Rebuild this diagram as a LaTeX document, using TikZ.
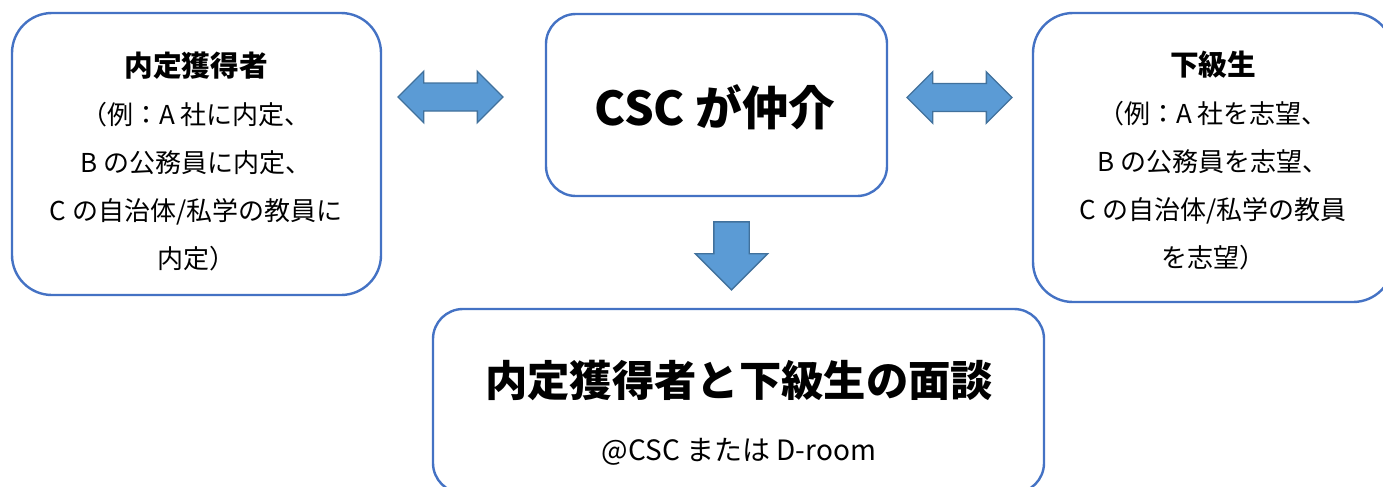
\documentclass[tikz,border=0pt]{standalone}
\usepackage{fontspec}
\setmainfont{Noto Sans CJK JP}
\usetikzlibrary{shapes.arrows}
\definecolor{boxblue}{HTML}{4472C4}
\definecolor{arrowfill}{HTML}{5B9BD5}
\definecolor{arrowline}{HTML}{41719C}

\begin{document}
\begin{tikzpicture}[
    x=0.75pt, y=-0.75pt,
    % Boxes and their texts
    roundbox/.style={rectangle, draw=boxblue, line width=1.8pt, fill=white, inner sep=0pt},
    bodytext/.style={align=center, inner sep=0pt, font=\fontsize{19.5pt}{36pt}\selectfont},
    % Block arrows
    sidearrow/.style={double arrow, draw=arrowline, line width=1pt, fill=arrowfill, inner xsep=0pt, inner ysep=10pt, minimum width=0pt, minimum height=78.75pt, double arrow head extend=8.75pt},
    downarrow/.style={single arrow, draw=arrowline, line width=1pt, fill=arrowfill, inner xsep=0pt, inner ysep=12.75pt, minimum width=0pt, minimum height=51pt, single arrow head extend=13.875pt, rotate=-90}
]
\useasboundingbox (0,0) rectangle (1383,486);
\clip (0,0) rectangle (1383,486);

% -----------------------------------------------------------
% Boxes
% -----------------------------------------------------------
\node[roundbox, rounded corners=30pt, minimum width=276.75pt, minimum height=211.5pt] (holder) at (196.5,154) {};
\node[roundbox, rounded corners=22.5pt, minimum width=255.75pt, minimum height=136.5pt] (csc) at (716.5,105) {};
\node[roundbox, rounded corners=30pt, minimum width=270pt, minimum height=216.75pt] (junior) at (1213,157.5) {};
\node[roundbox, rounded corners=22.5pt, minimum width=458.25pt, minimum height=138pt] (meeting) at (738.5,401) {};

% -----------------------------------------------------------
% Texts
% -----------------------------------------------------------
\node[bodytext] (holdertext) at (196,161) {{\fontsize{21.5pt}{36pt}\selectfont\bfseries 内定獲得者}\\（例：A 社に内定、\\B の公務員に内定、\\C の自治体/私学の教員に\\内定）};
\node[bodytext] (juniortext) at (1213,160) {{\fontsize{21.5pt}{36pt}\selectfont\bfseries 下級生}\\（例：A 社を志望、\\B の公務員を志望、\\C の自治体/私学の教員\\を志望）};
\node[inner sep=0pt, font=\fontsize{35pt}{42pt}\selectfont\bfseries] (csctext) at (715,107) {CSC が仲介};
\node[inner sep=0pt, font=\fontsize{31.75pt}{38pt}\selectfont\bfseries] (meettitle) at (739,380) {内定獲得者と下級生の面談};
\node[inner sep=0pt, font=\fontsize{21pt}{25pt}\selectfont] (meetplace) at (739,452) {@CSC または D-room};

% -----------------------------------------------------------
% Block arrows
% -----------------------------------------------------------
\node[sidearrow] (leftlink) at (450.5,97) {};
\node[sidearrow] (rightlink) at (959.5,97.5) {};
\node[downarrow] (downlink) at (731.5,247) {};

\end{tikzpicture}
\end{document}
